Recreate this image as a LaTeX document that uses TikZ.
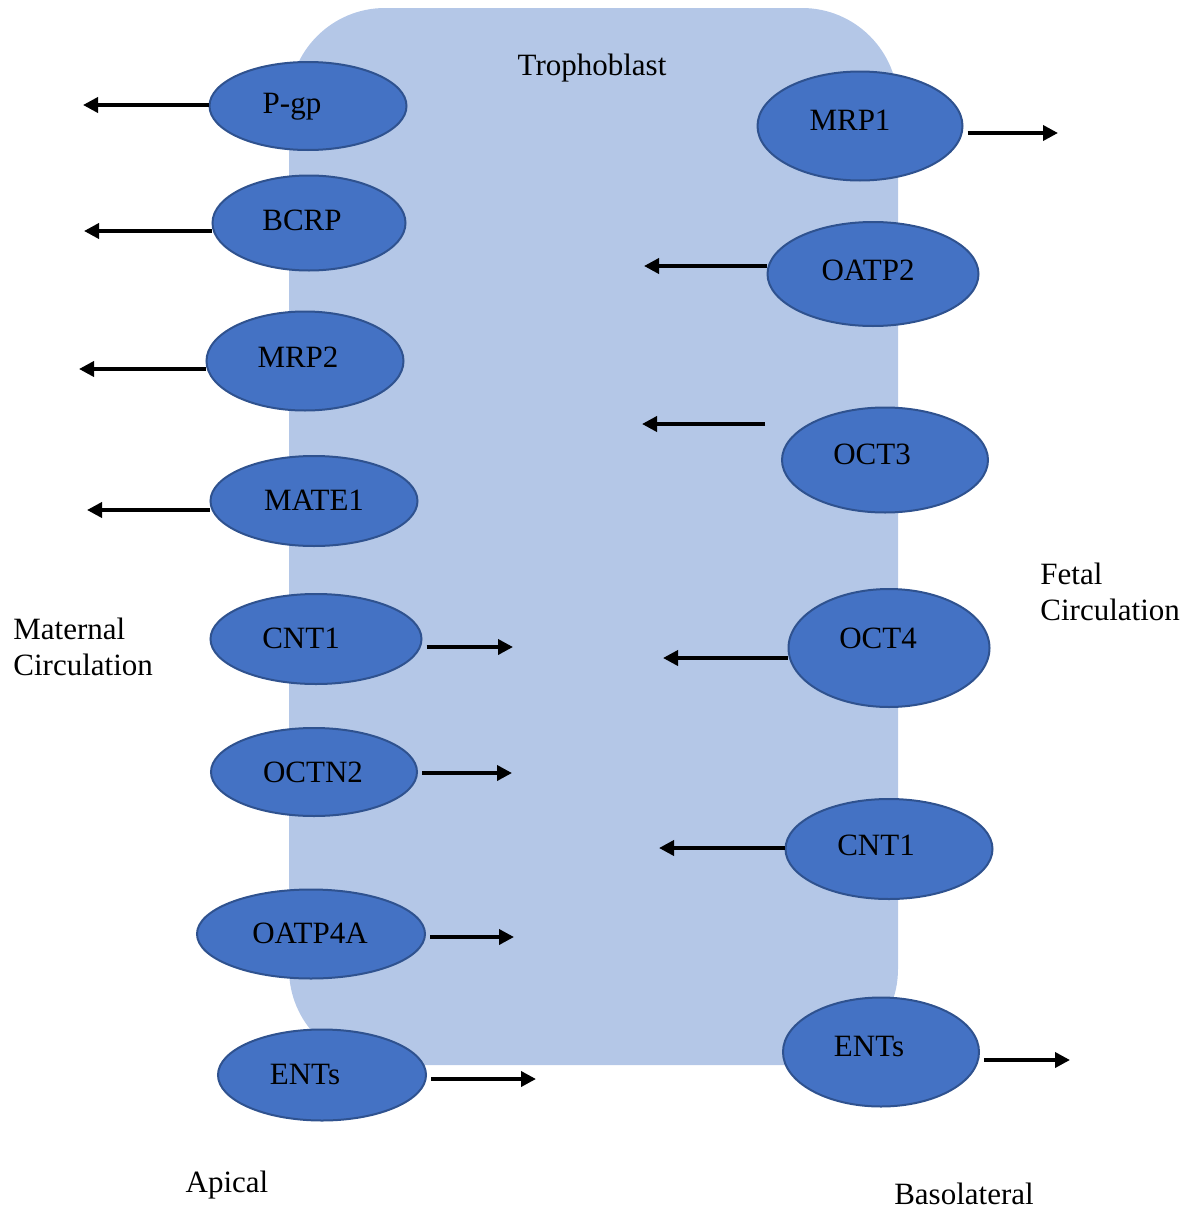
\documentclass[tikz,border=0pt]{standalone}
\usepackage{fontspec}
\setmainfont{Liberation Serif}
\usepackage{tikz}
\usetikzlibrary{arrows.meta}
\usetikzlibrary{shapes.geometric}
\definecolor{cellblue}{RGB}{180,199,231}
\definecolor{tpblue}{RGB}{68,114,196}
\definecolor{tpedge}{RGB}{47,82,143}

\begin{document}
\begin{tikzpicture}[x=0.5pt,y=-0.5pt,
    tp/.style={ellipse,draw=tpedge,line width=1pt,fill=tpblue,inner sep=0pt},
    flow/.style={line width=1.8pt,-{Triangle[length=7.5pt,width=7.5pt]}},
    lbl/.style={font=\fontsize{15.5}{18}\selectfont,align=left,inner sep=0pt}]
  \useasboundingbox (0,0) rectangle (1189,1210);
  \fill[cellblue,rounded corners=48pt] (289,8) rectangle (898,1065);
  \node[lbl] (troph) at (592,68) {Trophoblast};
  % carriers, apical and basolateral
  \foreach \n/\x/\y/\w/\h/\t/\dx/\dy in {
      pgp/308/106/197/88/P-gp/-16/1,
      bcrp/309/223/193/95/BCRP/-7/-3,
      mrp2/305/361/197/99/MRP2/-7/-4,
      mate1/314/501/207/90/MATE1/0/-1,
      cntl/316/639/211/90/CNT1/-15/-1,
      octn2/314/772/206/88/OCTN2/-1/0,
      oatpfa/311/934/228/89/OATP4A/-1/-1,
      entl/322/1075/208/91/ENTs/-17/-1,
      mrp1/860/126/205/109/MRP1/-10/-6,
      oatp2/873/274/211/104/OATP2/-5/-4,
      oct3/885/460/206/105/OCT3/-13/-6,
      oct4/889/648/201/118/OCT4/-11/-10,
      cntr/889/849/207/100/CNT1/-13/-4,
      entr/881/1052/196/109/ENTs/-12/-6}{
    \node[tp,minimum width=\w*0.5pt,minimum height=\h*0.5pt,
      label={[lbl,xshift=\dx*0.5pt,yshift=-\dy*0.5pt]center:\t}] (\n) at (\x,\y) {};
  }
  % efflux to the left
  \foreach \n/\ex/\ey in {pgp/83/105,bcrp/84/231,mrp2/79/369,mate1/87/510,
      oatp2/644/266,oct4/663/658,cntr/659/848}{
    \coordinate (\n-end) at (\ex,\ey);
    \draw[flow] (\n.west |- \n-end) -- (\n-end);
  }
  \coordinate (oct3-end) at (642,424);
  \draw[flow,shorten <=8pt] (oct3.west |- oct3-end) -- (oct3-end);
  % flow to the right
  \foreach \n/\ex/\ey in {cntl/513/647,octn2/512/773,oatpfa/514/937,entl/536/1079,
      mrp1/1058/133,entr/1070/1060}{
    \coordinate (\n-end) at (\ex,\ey);
    \draw[flow,shorten <=2pt] (\n.east |- \n-end) -- (\n-end);
  }
  \node[lbl,anchor=west] (maternal) at (13,647) {Maternal\\Circulation};
  \node[lbl,anchor=west] (fetal) at (1040,592) {Fetal\\Circulation};
  \node[lbl] (apical) at (227,1185) {Apical};
  \node[lbl] (baso) at (964,1194) {Basolateral};
\end{tikzpicture}
\end{document}
